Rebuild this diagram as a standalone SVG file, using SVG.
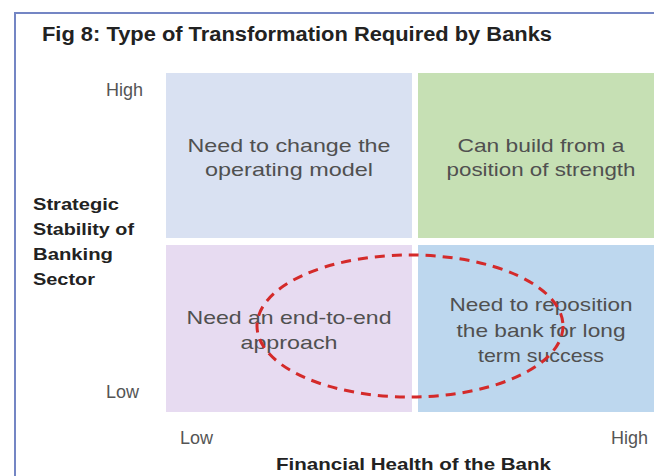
<svg xmlns="http://www.w3.org/2000/svg" width="654" height="476" viewBox="0 0 654 476">
<style>
.q{font-family:"Liberation Sans",Arial,sans-serif;font-size:19px;fill:#505050;text-anchor:middle}
.ax{font-family:"Liberation Sans",Arial,sans-serif;font-size:18px;fill:#555555}
.b{font-family:"Liberation Sans",Arial,sans-serif;font-size:17px;font-weight:bold;fill:#222222}
</style>
<rect width="654" height="476" fill="#ffffff"/>
<path d="M15 476 V13 H654" fill="none" stroke="#7486c4" stroke-width="2"/>
<text x="42" y="41" font-family="Liberation Sans,Arial,sans-serif" font-size="20" font-weight="bold" fill="#222222" textLength="510" lengthAdjust="spacingAndGlyphs">Fig 8: Type of Transformation Required by Banks</text>
<g id="axis-labels">
<text class="ax" x="143" y="96" text-anchor="end">High</text>
<text class="ax" x="139" y="398" text-anchor="end">Low</text>
<text class="ax" x="180" y="444">Low</text>
<text class="ax" x="648" y="444" text-anchor="end">High</text>
<text class="b" x="33" y="210" textLength="86" lengthAdjust="spacingAndGlyphs">Strategic</text>
<text class="b" x="33" y="235" textLength="101" lengthAdjust="spacingAndGlyphs">Stability of</text>
<text class="b" x="33" y="260" textLength="80" lengthAdjust="spacingAndGlyphs">Banking</text>
<text class="b" x="33" y="285" textLength="62" lengthAdjust="spacingAndGlyphs">Sector</text>
<text class="b" x="276" y="470" textLength="275" lengthAdjust="spacingAndGlyphs">Financial Health of the Bank</text>
</g>
<g id="q-top-left">
<rect x="166" y="73" width="246" height="165" fill="#d9e1f2"/>
<text class="q" x="289" y="152" textLength="203" lengthAdjust="spacingAndGlyphs">Need to change the</text>
<text class="q" x="289" y="176" textLength="168" lengthAdjust="spacingAndGlyphs">operating model</text>
</g>
<g id="q-top-right">
<rect x="418" y="73" width="236" height="165" fill="#c6e0b4"/>
<text class="q" x="541" y="152" textLength="167" lengthAdjust="spacingAndGlyphs">Can build from a</text>
<text class="q" x="541" y="176" textLength="189" lengthAdjust="spacingAndGlyphs">position of strength</text>
</g>
<g id="q-bottom-left">
<rect x="166" y="245" width="246" height="167" fill="#e7dbf1"/>
<text class="q" x="289" y="324" textLength="205" lengthAdjust="spacingAndGlyphs">Need an end-to-end</text>
<text class="q" x="289" y="349" textLength="97" lengthAdjust="spacingAndGlyphs">approach</text>
</g>
<g id="q-bottom-right">
<rect x="418" y="245" width="236" height="167" fill="#bdd7ee"/>
<text class="q" x="541" y="311" textLength="183" lengthAdjust="spacingAndGlyphs">Need to reposition</text>
<text class="q" x="541" y="337" textLength="169" lengthAdjust="spacingAndGlyphs">the bank for long</text>
<text class="q" x="541" y="362" textLength="126" lengthAdjust="spacingAndGlyphs">term success</text>
</g>
<g id="connectors">
<ellipse cx="410" cy="326" rx="153" ry="71" fill="none" stroke="#d42a2a" stroke-width="3" stroke-dasharray="10 7"/>
</g>
</svg>
